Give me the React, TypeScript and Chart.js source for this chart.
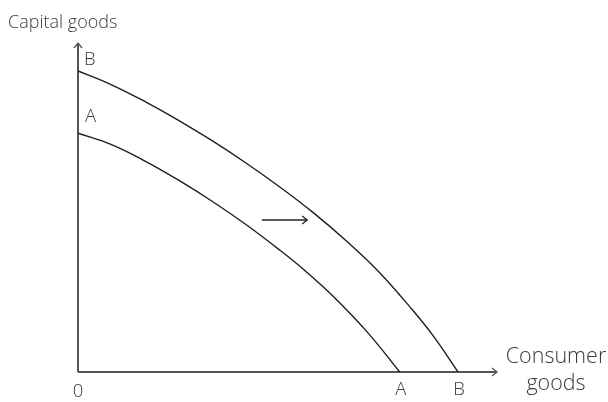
import React, { useEffect, useRef } from "react";
import { Chart, registerables } from "chart.js";

Chart.register(...registerables);

// PPF A (inner curve): consumer goods (x) vs capital goods (y), 0–100 scale
const curveAX = [0, 8, 16, 24, 32, 40, 48, 54, 61, 69, 76.8];
const curveAY = [72.6, 69.1, 64.1, 58.3, 51.9, 44.9, 37.2, 31.0, 22.9, 12.2, 0];
// PPF B (outer curve)
const curveBX = [0, 8, 16, 24, 32, 40, 48, 56, 64, 72, 80, 85, 90.7];
const curveBY = [91.5, 87.3, 82.2, 76.5, 70.3, 63.6, 56.4, 48.6, 39.9, 30.2, 18.6, 10.6, 0];
// shift arrow
const shiftArrowX = [43.9, 54.7];
const shiftArrowY = [46.2, 46.2];

const yAxisTitle = "Capital goods";
const xAxisTitle = ["Consumer", "goods"];
const originLabel = "0";
const curveLabels = ["A", "B"];

const FAMILY = "'Open Sans', Lato, 'DejaVu Sans', sans-serif";
const FONT = `300 18px ${FAMILY}`;
const LABEL_FONT = `300 18.5px ${FAMILY}`;
const XTITLE_FONT = `300 21.5px ${FAMILY}`;
const TEXT = "#3a3a3a";
const AXIS = "#555555";

function toPts(xs: number[], ys: number[]) {
  return xs.map((x, i) => ({ x, y: ys[i] }));
}

function chevron(ctx: CanvasRenderingContext2D, x: number, y: number, dx: number, dy: number, size: number) {
  const len = Math.hypot(dx, dy);
  const ux = dx / len, uy = dy / len;
  const px = -uy, py = ux;
  ctx.beginPath();
  ctx.moveTo(x - ux * size + px * size * 0.8, y - uy * size + py * size * 0.8);
  ctx.lineTo(x, y);
  ctx.lineTo(x - ux * size - px * size * 0.8, y - uy * size - py * size * 0.8);
  ctx.stroke();
}

const decorPlugin = {
  id: "decor",
  beforeDatasetsDraw(chart: any) {
    const { ctx, scales } = chart;
    const xs = scales.x, ys = scales.y;
    const ox = xs.getPixelForValue(0), oy = ys.getPixelForValue(0);
    const xEnd = xs.getPixelForValue(100), yEnd = ys.getPixelForValue(100);
    ctx.save();
    ctx.strokeStyle = AXIS;
    ctx.lineWidth = 2;
    ctx.beginPath();
    ctx.moveTo(ox, oy);
    ctx.lineTo(ox, yEnd);
    ctx.moveTo(ox, oy);
    ctx.lineTo(xEnd, oy);
    ctx.stroke();
    ctx.lineWidth = 1.3;
    chevron(ctx, ox, yEnd, 0, -1, 5);
    chevron(ctx, xEnd, oy, 1, 0, 5);
    ctx.restore();
  },
  afterDatasetsDraw(chart: any) {
    const { ctx, scales } = chart;
    const xs = scales.x, ys = scales.y;
    const ox = xs.getPixelForValue(0), oy = ys.getPixelForValue(0);
    ctx.save();
    const ax0 = xs.getPixelForValue(shiftArrowX[0]);
    const ax1 = xs.getPixelForValue(shiftArrowX[1]);
    const ay = ys.getPixelForValue(shiftArrowY[0]);
    ctx.strokeStyle = "#222";
    ctx.lineWidth = 1.3;
    ctx.beginPath();
    ctx.moveTo(ax0, ay);
    ctx.lineTo(ax1, ay);
    ctx.stroke();
    chevron(ctx, ax1, ay, 1, 0, 5);

    ctx.fillStyle = TEXT;
    ctx.textBaseline = "middle";
    ctx.textAlign = "left";
    ctx.font = FONT;
    ctx.fillText(yAxisTitle, 8, 23);
    ctx.font = LABEL_FONT;
    ctx.fillText(curveLabels[1], ox + 6, ys.getPixelForValue(curveBY[0]) - 11);
    ctx.fillText(curveLabels[0], ox + 7, ys.getPixelForValue(curveAY[0]) - 16);
    ctx.textAlign = "center";
    ctx.fillText(originLabel, ox, oy + 20);
    ctx.fillText(curveLabels[0], xs.getPixelForValue(curveAX[curveAX.length - 1]) + 1, oy + 18);
    ctx.fillText(curveLabels[1], xs.getPixelForValue(curveBX[curveBX.length - 1]) + 1, oy + 18);
    ctx.font = XTITLE_FONT;
    ctx.fillText(xAxisTitle[0], 556, 357);
    ctx.fillText(xAxisTitle[1], 556, 384);
    ctx.restore();
  },
};

export default function App() {
  const ref = useRef<HTMLCanvasElement>(null);
  useEffect(() => {
    if (!ref.current) return;
    const chart = new Chart(ref.current, {
      type: "line",
      data: {
        datasets: [
          {
            label: "A",
            data: toPts(curveAX, curveAY),
            borderColor: "#1e1e1e",
            borderWidth: 1.4,
            pointRadius: 0,
            tension: 0.4,
            fill: false,
          },
          {
            label: "B",
            data: toPts(curveBX, curveBY),
            borderColor: "#1e1e1e",
            borderWidth: 1.4,
            pointRadius: 0,
            tension: 0.4,
            fill: false,
          },
        ],
      },
      options: {
        responsive: false,
        animation: false,
        layout: { padding: { left: 78, top: 43, right: 111, bottom: 30 } },
        plugins: { legend: { display: false }, tooltip: { enabled: false } },
        scales: {
          x: { type: "linear", min: 0, max: 100, display: false },
          y: { type: "linear", min: 0, max: 100, display: false },
        },
      },
      plugins: [decorPlugin],
    });
    return () => chart.destroy();
  }, []);
  return (
    <div style={{ position: "fixed", left: 0, top: 0, width: 608, height: 402, background: "#fff" }}>
      <canvas ref={ref} width={608} height={402} style={{ display: "block" }} />
    </div>
  );
}
